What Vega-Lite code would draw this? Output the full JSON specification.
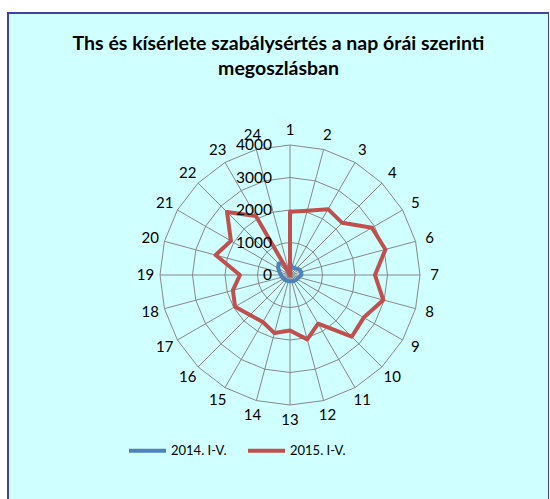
{
  "$schema": "https://vega.github.io/schema/vega-lite/v6.json",
  "width": 541,
  "height": 500,
  "autosize": {"type": "none"},
  "padding": {"left": 8, "top": 13, "right": 0, "bottom": 0},
  "background": "#FFFFFF",
  "config": {
    "view": {"fill": "#D0FFFF", "stroke": "#4242A6", "strokeWidth": 2},
    "font": "Lato",
    "text": {"font": "Lato", "color": "#000000"}
  },
  "title": {
    "text": ["Ths és kísérlete szabálysértés a nap órái szerinti", "megoszlásban"],
    "font": "Lato",
    "fontSize": 19.5,
    "fontWeight": "bold",
    "color": "#000000",
    "anchor": "middle",
    "frame": "group",
    "offset": -66,
    "lineHeight": 25
  },
  "datasets": {
    "counts": [
      {"hour": 1, "series": "2014. I-V.", "value": 350},
      {"hour": 2, "series": "2014. I-V.", "value": 250},
      {"hour": 3, "series": "2014. I-V.", "value": 250},
      {"hour": 4, "series": "2014. I-V.", "value": 280},
      {"hour": 5, "series": "2014. I-V.", "value": 330},
      {"hour": 6, "series": "2014. I-V.", "value": 360},
      {"hour": 7, "series": "2014. I-V.", "value": 350},
      {"hour": 8, "series": "2014. I-V.", "value": 280},
      {"hour": 9, "series": "2014. I-V.", "value": 250},
      {"hour": 10, "series": "2014. I-V.", "value": 230},
      {"hour": 11, "series": "2014. I-V.", "value": 220},
      {"hour": 12, "series": "2014. I-V.", "value": 200},
      {"hour": 13, "series": "2014. I-V.", "value": 190},
      {"hour": 14, "series": "2014. I-V.", "value": 190},
      {"hour": 15, "series": "2014. I-V.", "value": 200},
      {"hour": 16, "series": "2014. I-V.", "value": 210},
      {"hour": 17, "series": "2014. I-V.", "value": 230},
      {"hour": 18, "series": "2014. I-V.", "value": 250},
      {"hour": 19, "series": "2014. I-V.", "value": 280},
      {"hour": 20, "series": "2014. I-V.", "value": 330},
      {"hour": 21, "series": "2014. I-V.", "value": 420},
      {"hour": 22, "series": "2014. I-V.", "value": 500},
      {"hour": 23, "series": "2014. I-V.", "value": 420},
      {"hour": 24, "series": "2014. I-V.", "value": 0},
      {"hour": 1, "series": "2015. I-V.", "value": 1950},
      {"hour": 2, "series": "2015. I-V.", "value": 2050},
      {"hour": 3, "series": "2015. I-V.", "value": 2340},
      {"hour": 4, "series": "2015. I-V.", "value": 2270},
      {"hour": 5, "series": "2015. I-V.", "value": 2910},
      {"hour": 6, "series": "2015. I-V.", "value": 3040},
      {"hour": 7, "series": "2015. I-V.", "value": 2615},
      {"hour": 8, "series": "2015. I-V.", "value": 2970},
      {"hour": 9, "series": "2015. I-V.", "value": 2620},
      {"hour": 10, "series": "2015. I-V.", "value": 2685},
      {"hour": 11, "series": "2015. I-V.", "value": 1730},
      {"hour": 12, "series": "2015. I-V.", "value": 2050},
      {"hour": 13, "series": "2015. I-V.", "value": 1710},
      {"hour": 14, "series": "2015. I-V.", "value": 1850},
      {"hour": 15, "series": "2015. I-V.", "value": 1670},
      {"hour": 16, "series": "2015. I-V.", "value": 1740},
      {"hour": 17, "series": "2015. I-V.", "value": 1950},
      {"hour": 18, "series": "2015. I-V.", "value": 1820},
      {"hour": 19, "series": "2015. I-V.", "value": 1540},
      {"hour": 20, "series": "2015. I-V.", "value": 2370},
      {"hour": 21, "series": "2015. I-V.", "value": 2100},
      {"hour": 22, "series": "2015. I-V.", "value": 2740},
      {"hour": 23, "series": "2015. I-V.", "value": 2100},
      {"hour": 24, "series": "2015. I-V.", "value": 0}
    ],
    "ticks": [
      {"tick": 0}, {"tick": 1000}, {"tick": 2000}, {"tick": 3000}, {"tick": 4000}
    ]
  },
  "resolve": {"scale": {"x": "shared", "y": "shared"}},
  "layer": [
    {
      "data": {"name": "counts"},
      "transform": [
        {"filter": "datum.series == '2015. I-V.'"},
        {"calculate": "[1000, 2000, 3000, 4000]", "as": "ring"},
        {"flatten": ["ring"]},
        {"calculate": "datum.ring * sin((datum.hour - 1) * PI / 12)", "as": "px"},
        {"calculate": "datum.ring * cos((datum.hour - 1) * PI / 12)", "as": "py"}
      ],
      "mark": {"type": "line", "interpolate": "linear-closed", "stroke": "#878787", "strokeWidth": 1},
      "encoding": {
        "x": {"field": "px", "type": "quantitative", "scale": {"domain": [-8677, 7969], "nice": false, "zero": false}, "axis": null},
        "y": {"field": "py", "type": "quantitative", "scale": {"domain": [-7323, 8062], "nice": false, "zero": false}, "axis": null},
        "detail": {"field": "ring", "type": "nominal"},
        "order": {"field": "hour", "type": "quantitative"}
      }
    },
    {
      "data": {"name": "counts"},
      "transform": [
        {"filter": "datum.series == '2015. I-V.'"},
        {"calculate": "0", "as": "cx"},
        {"calculate": "4000 * sin((datum.hour - 1) * PI / 12)", "as": "px"},
        {"calculate": "4000 * cos((datum.hour - 1) * PI / 12)", "as": "py"}
      ],
      "mark": {"type": "rule", "stroke": "#878787", "strokeWidth": 1},
      "encoding": {
        "x": {"field": "cx", "type": "quantitative"},
        "y": {"field": "cx", "type": "quantitative"},
        "x2": {"field": "px"},
        "y2": {"field": "py"}
      }
    },
    {
      "data": {"name": "counts"},
      "transform": [
        {"calculate": "datum.value * sin((datum.hour - 1) * PI / 12)", "as": "px"},
        {"calculate": "datum.value * cos((datum.hour - 1) * PI / 12)", "as": "py"}
      ],
      "mark": {"type": "line", "interpolate": "linear-closed", "strokeWidth": 4, "strokeJoin": "round", "strokeCap": "round"},
      "encoding": {
        "x": {"field": "px", "type": "quantitative"},
        "y": {"field": "py", "type": "quantitative"},
        "order": {"field": "hour", "type": "quantitative"},
        "color": {
          "field": "series",
          "type": "nominal",
          "scale": {"domain": ["2014. I-V.", "2015. I-V."], "range": ["#4F81BD", "#C0504D"]},
          "legend": {
            "title": null,
            "orient": "none",
            "legendX": 119,
            "legendY": 417,
            "direction": "horizontal",
            "symbolType": "stroke",
            "symbolSize": 1369,
            "symbolStrokeWidth": 4,
            "labelFont": "Lato",
            "labelFontSize": 13,
            "labelColor": "#000000",
            "labelOffset": 3,
            "columnPadding": 13,
            "padding": 0
          }
        }
      }
    },
    {
      "data": {"name": "ticks"},
      "transform": [{"calculate": "0", "as": "cx"}],
      "mark": {"type": "text", "align": "right", "baseline": "middle", "dx": -18, "fontSize": 15.5},
      "encoding": {
        "x": {"field": "cx", "type": "quantitative"},
        "y": {"field": "tick", "type": "quantitative"},
        "text": {"field": "tick", "type": "quantitative", "format": "d"}
      }
    },
    {
      "data": {"name": "counts"},
      "transform": [
        {"filter": "datum.series == '2015. I-V.'"},
        {"calculate": "4450 * sin((datum.hour - 1) * PI / 12)", "as": "px"},
        {"calculate": "4450 * cos((datum.hour - 1) * PI / 12)", "as": "py"}
      ],
      "mark": {"type": "text", "align": "center", "baseline": "middle", "fontSize": 15},
      "encoding": {
        "x": {"field": "px", "type": "quantitative"},
        "y": {"field": "py", "type": "quantitative"},
        "text": {"field": "hour", "type": "nominal"}
      }
    }
  ]
}
